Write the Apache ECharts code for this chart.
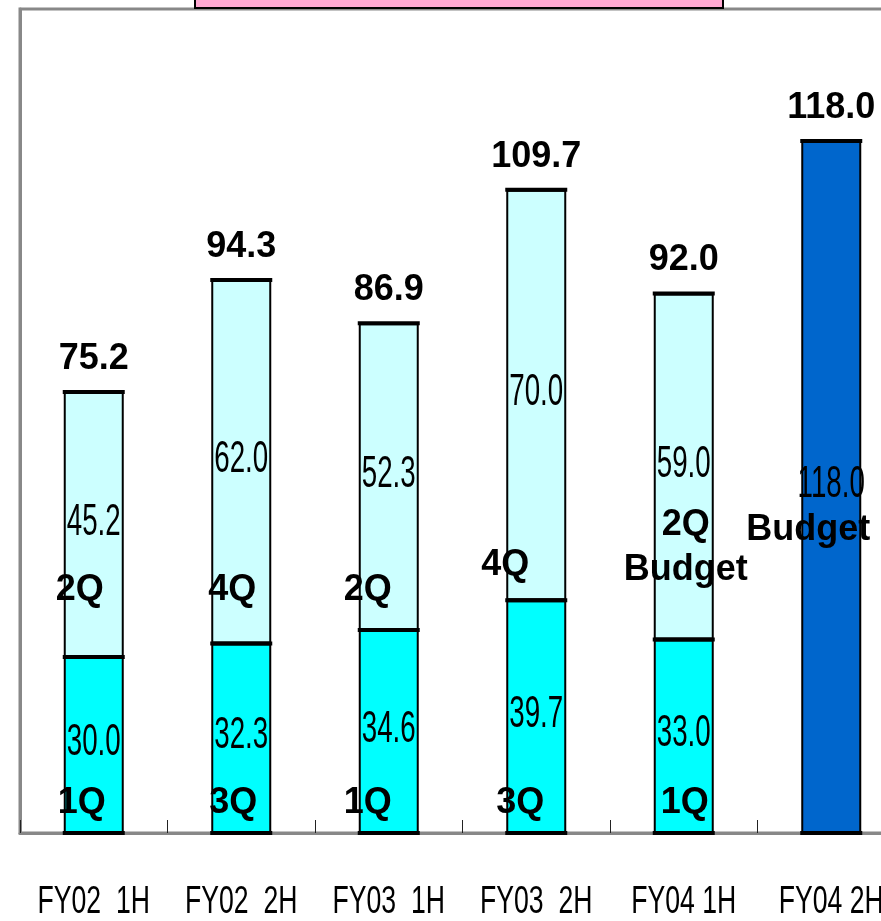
<!DOCTYPE html>
<html>
<head>
<meta charset="utf-8">
<script src="https://cdn.jsdelivr.net/npm/echarts@6/dist/echarts.min.js"></script>
<style>
  html, body { margin: 0; padding: 0; background: #fff; overflow: hidden; }
  #main { width: 910px; height: 921px; }
</style>
</head>
<body>
<div id="main"></div>
<script>
var categories = ['FY02  1H', 'FY02  2H', 'FY03  1H', 'FY03  2H', 'FY04 1H', 'FY04 2H']
// first quarter of each half (1Q / 3Q)
var firstQ = [30.0, 32.3, 34.6, 39.7, 33.0, '-']
// second quarter of each half (2Q / 4Q)
var secondQ = [45.2, 62.0, 52.3, 70.0, 59.0, '-']
// FY04 2H budget
var budget = ['-', '-', '-', '-', '-', 118.0]

function num(v) { return v === '-' ? 0 : v }

var totals = categories.map(function (c, i) {
  return +(num(firstQ[i]) + num(secondQ[i]) + num(budget[i])).toFixed(1)
})

// quarter tags: [category index, anchor value, text, x offset]
var qNotes = [
  [0, 5.1, '1Q', -12], [0, 41.4, '2Q', -14],
  [1, 5.1, '3Q', -8], [1, 41.4, '4Q', -9],
  [2, 5.1, '1Q', -21], [2, 41.4, '2Q', -21],
  [3, 5.1, '3Q', -16], [3, 45.6, '4Q', -31],
  [4, 5.1, '1Q', 1], [4, 52.5, '2Q', 2], [4, 44.8, 'Budget', 2],
  [5, 51.6, 'Budget', -23]
]

var sans = "'Liberation Sans', Arial, sans-serif"
var BAR_W = 60

// labels laid out on the chart's own axes, drawn as (optionally squeezed) text
var labelItems = []
// horizontal bar edges (drawn heavier than the sides, like the original)
var edgeItems = []
function addLabel(i, v, text, dx, dy, kind) {
  labelItems.push({ value: [i, v], text: text, dx: dx, dy: dy, kind: kind })
}
categories.forEach(function (c, i) {
  var base = 0
  edgeItems.push([i, 0])
  ;[firstQ, secondQ, budget].forEach(function (arr) {
    if (arr[i] !== '-') {
      addLabel(i, base + arr[i] / 2, arr[i].toFixed(1), 0, -2, 'value')
      base += arr[i]
      edgeItems.push([i, base])
    }
  })
  addLabel(i, totals[i], totals[i].toFixed(1), 0, -33, 'total')
  addLabel(i, 0, c, 0, 70, 'axis')
})
qNotes.forEach(function (n) { addLabel(n[0], n[1], n[2], n[3], 0, 'bold') })

var kinds = {
  value: { font: '44px ' + sans, scaleX: 0.63 },
  axis: { font: '38px ' + sans, scaleX: 0.7 },
  total: { font: 'bold 36px ' + sans, scaleX: 1 },
  bold: { font: 'bold 36px ' + sans, scaleX: 1 }
}

var myChart = echarts.init(document.getElementById('main'))
var option = {
  animation: false,
  grid: {
    left: 20,
    top: 9,
    bottom: 88,
    right: 5,
    show: true,
    borderColor: '#888',
    borderWidth: 3
  },
  xAxis: {
    type: 'category',
    data: categories,
    axisLine: { lineStyle: { color: '#888', width: 3 } },
    axisTick: { show: true, inside: true, interval: 0, length: 13, lineStyle: { color: '#222', width: 1 } },
    axisLabel: { show: false }
  },
  yAxis: {
    type: 'value',
    min: 0,
    max: 140.5,
    axisLine: { show: true, lineStyle: { color: '#888', width: 3 } },
    axisTick: { show: false },
    axisLabel: { show: false },
    splitLine: { show: false }
  },
  graphic: [{
    type: 'rect',
    shape: { x: 195, y: -10, width: 528, height: 18 },
    style: { fill: '#ffa8d2', stroke: '#000', lineWidth: 2 },
    z: 100
  }],
  series: [
    {
      name: 'firstQ',
      type: 'bar',
      stack: 'sales',
      barWidth: BAR_W,
      data: firstQ,
      itemStyle: { color: '#00ffff', borderColor: '#000', borderWidth: 2 }
    },
    {
      name: 'secondQ',
      type: 'bar',
      stack: 'sales',
      data: secondQ,
      itemStyle: { color: '#ccffff', borderColor: '#000', borderWidth: 2 }
    },
    {
      name: 'budget',
      type: 'bar',
      stack: 'sales',
      data: budget,
      itemStyle: { color: '#0066cc', borderColor: '#000', borderWidth: 2 }
    },
    {
      name: 'edges',
      type: 'custom',
      coordinateSystem: 'cartesian2d',
      clip: false,
      z: 5,
      data: edgeItems,
      renderItem: function (params, api) {
        var p = api.coord([api.value(0), api.value(1)])
        return {
          type: 'line',
          shape: { x1: p[0] - BAR_W / 2 - 1, y1: p[1], x2: p[0] + BAR_W / 2 + 1, y2: p[1] },
          style: { stroke: '#000', lineWidth: 4 }
        }
      }
    },
    {
      name: 'labels',
      type: 'custom',
      coordinateSystem: 'cartesian2d',
      clip: false,
      z: 10,
      data: labelItems.map(function (d) { return d.value }),
      renderItem: function (params, api) {
        var it = labelItems[params.dataIndex]
        var k = kinds[it.kind]
        var p = api.coord([api.value(0), api.value(1)])
        return {
          type: 'text',
          x: p[0] + it.dx,
          y: p[1] + it.dy,
          scaleX: k.scaleX,
          style: {
            text: it.text,
            font: k.font,
            fill: '#000',
            align: 'center',
            verticalAlign: 'middle'
          }
        }
      }
    }
  ]
}
myChart.setOption(option)
</script>
</body>
</html>
